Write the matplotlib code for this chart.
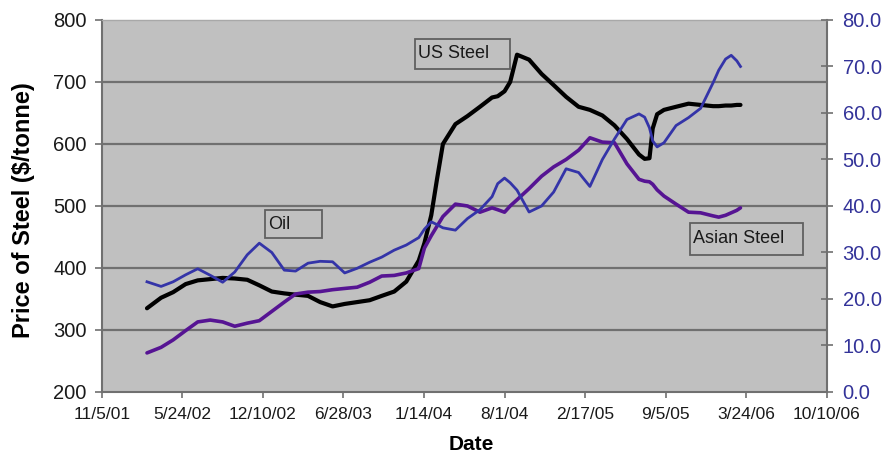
import datetime as dt
import matplotlib.pyplot as plt
from matplotlib.patches import Rectangle

plt.rcParams['font.family'] = ['Liberation Sans', 'DejaVu Sans']

dates = ['2002-02-25', '2002-04-01', '2002-05-01', '2002-06-01', '2002-07-01',
         '2002-08-01', '2002-09-01', '2002-10-01', '2002-11-01', '2002-12-01',
         '2003-01-01', '2003-02-01', '2003-03-01', '2003-04-01', '2003-05-01',
         '2003-06-01', '2003-07-01', '2003-08-01', '2003-09-01', '2003-10-01',
         '2003-11-01', '2003-12-01', '2004-01-01', '2004-01-15', '2004-02-01',
         '2004-02-15', '2004-03-01', '2004-04-01', '2004-05-01', '2004-06-01',
         '2004-07-01', '2004-07-15', '2004-08-01', '2004-08-15', '2004-09-01',
         '2004-10-01', '2004-11-01', '2004-12-01', '2005-01-01', '2005-02-01',
         '2005-03-01', '2005-04-01', '2005-05-01', '2005-06-01', '2005-07-01',
         '2005-07-15', '2005-07-27', '2005-08-04', '2005-08-15', '2005-09-01',
         '2005-10-01', '2005-11-01', '2005-12-01', '2006-01-01', '2006-01-15',
         '2006-02-01', '2006-02-15', '2006-03-01', '2006-03-10']

# $/tonne
us_steel = [335, 352, 361, 374, 380, 382, 384, 383, 381, 372,
            362, 359, 357, 355, 345, 338, 342, 345, 348, 355,
            362, 378, 412, 440, 485, 542, 600, 632, 645, 660,
            675, 677, 685, 700, 744, 736, 713, 695, 676, 660,
            655, 646, 630, 608, 583, 576, 577, 625, 648, 655,
            660, 665, 663, 661, 661, 662, 662, 663, 663]

asian_steel = [263, 272, 284, 299, 313, 316, 313, 306, 311, 315,
               330, 345, 358, 361, 362, 365, 367, 369, 377, 387,
               388, 392, 399, 432, 452, 467, 483, 503, 500, 490,
               497, 494, 490, 500, 510, 528, 548, 563, 575, 590,
               610, 603, 602, 568, 543, 540, 539, 535, 526, 516,
               503, 490, 489, 484, 482, 485, 489, 493, 497]

# $/barrel, right axis
oil = [23.7, 22.7, 23.7, 25.2, 26.5, 25.1, 23.6, 25.8, 29.5, 32.0,
       30.0, 26.2, 26.0, 27.7, 28.1, 28.0, 25.6, 26.6, 27.9, 29.0,
       30.5, 31.6, 33.2, 35.0, 36.6, 36.0, 35.3, 34.8, 37.3, 39.2,
       42.0, 44.8, 46.0, 45.0, 43.4, 38.7, 40.0, 43.0, 48.0, 47.2,
       44.2, 50.0, 54.4, 58.6, 59.8, 59.1, 56.8, 54.0, 52.7, 53.6,
       57.3, 59.0, 61.0, 66.5, 69.2, 71.6, 72.4, 71.2, 70.0]

date_ticks = ['11/5/01', '5/24/02', '12/10/02', '6/28/03', '1/14/04',
              '8/1/04', '2/17/05', '9/5/05', '3/24/06', '10/10/06']

x = [dt.datetime.strptime(d, '%Y-%m-%d') for d in dates]
xticks = [dt.datetime.strptime(t, '%m/%d/%y') for t in date_ticks]

fig = plt.figure(figsize=(8.86, 4.54), dpi=100)
ax = fig.add_axes([0.115, 0.1366, 0.818, 0.8194])
ax.set_facecolor('#c0c0c0')

ax.plot(x, us_steel, color='black', lw=3.0, solid_capstyle='round')
ax.plot(x, asian_steel, color='#561493', lw=2.6, solid_capstyle='round')

ax.set_ylim(200, 800)
ax.set_yticks(range(200, 801, 100))
ax.set_xlim(xticks[0], xticks[-1])
ax.set_xticks(xticks)
ax.set_xticklabels(date_ticks)

for y in range(300, 800, 100):
    ax.axhline(y, color='#707070', lw=1.6, zorder=0.5)

ax.tick_params(axis='y', direction='out', length=5, width=1.2, color='#707070',
               labelsize=14.5, labelcolor='#1a1a1a', pad=6)
ax.tick_params(axis='x', direction='out', length=4, width=1.2, color='#707070',
               labelsize=12.5, labelcolor='#1a1a1a', pad=7)

for side in ['left', 'bottom', 'right']:
    ax.spines[side].set_color('#707070')
    ax.spines[side].set_linewidth(1.5)
ax.spines['top'].set_color('#a8a8a8')
ax.spines['top'].set_linewidth(1.0)

ax.set_ylabel('Price of Steel ($/tonne)', fontsize=17, fontweight='bold')
ax.yaxis.set_label_coords(-0.092, 0.49)
ax.set_xlabel('Date', fontsize=15, fontweight='bold')
ax.xaxis.set_label_coords(0.51, -0.115)

ax2 = ax.twinx()
ax2.plot(x, oil, color='#3434a8', lw=2.0)
ax2.set_ylim(0, 80)
ax2.set_yticks(range(0, 81, 10))
ax2.set_yticklabels([f'{v:.1f}' for v in range(0, 81, 10)])
ax2.tick_params(axis='y', direction='inout', length=9, width=1.2, color='#707070',
                labelsize=14.5, labelcolor='#333399', pad=7)
for side in ax2.spines:
    ax2.spines[side].set_visible(False)

# labelled boxes for each series
boxes = [
    ('Oil', 0.2248, 0.414, 0.0786, 0.075),
    ('US Steel', 0.4317, 0.8683, 0.1311, 0.0806),
    ('Asian Steel', 0.811, 0.3683, 0.156, 0.086),
]
for label, bx, by, bw, bh in boxes:
    ax2.add_patch(Rectangle((bx, by), bw, bh, transform=ax.transAxes,
                            facecolor='#c0c0c0', edgecolor='#606060',
                            lw=1.3, zorder=5, clip_on=False))
    ax2.text(bx + 0.005, by + bh / 2, label, transform=ax.transAxes,
             ha='left', va='center', fontsize=13, color='#1a1a1a', zorder=6)

fig.savefig('out.png', dpi=100)
